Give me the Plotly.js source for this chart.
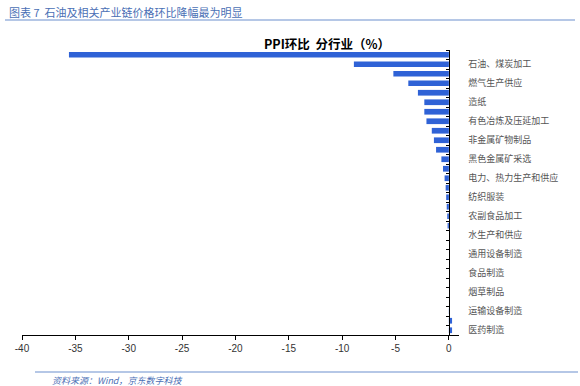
<!DOCTYPE html>
<html>
<head>
<meta charset="utf-8">
<script src="https://cdn.plot.ly/plotly-3.0.1.min.js"></script>
<style>html,body{margin:0;padding:0;background:#fff;}#chart{width:580px;height:386px;}</style>
</head>
<body>
<div id="chart"></div>
<script>
// Category positions (1 = top) and PPI month-on-month change (%)
var positions = [1,2,3,4,5,6,7,8,9,10,11,12,13,14,15,16,17,18,19,20,21,22,23,24,25,26,27,28,29,30];
var values = [-35.6,-8.9,-5.2,-3.8,-2.9,-2.3,-2.3,-2.1,-1.6,-1.4,-1.2,-0.7,-0.55,-0.4,-0.3,-0.25,-0.2,-0.15,-0.12,0,0,0,0,0,0,0,0,0.05,0.3,0.3];
// Labelled categories (every other one is shown in the reference)
var labelPositions = [2,4,6,8,10,12,14,16,18,20,22,24,26,28,30];
var labels = ["石油、煤炭加工","燃气生产供应","造纸","有色冶炼及压延加工","非金属矿物制品","黑色金属矿采选","电力、热力生产和供应","纺织服装","农副食品加工","水生产和供应","通用设备制造","食品制造","烟草制品","运输设备制造","医药制造"];
var xTicks = [-40,-35,-30,-25,-20,-15,-10,-5,0];

var heading = "图表 7  石油及相关产业链价格环比降幅最为明显";
var chartTitle = "PPI环比  分行业（%）";
var source = "资料来源：Wind，京东数字科技";

var xRange = [-40, 0.95];
var yAxisPos = (0 - xRange[0]) / (xRange[1] - xRange[0]);
var cjk = "'Noto Sans CJK SC', 'Noto Sans', sans-serif";

var trace = {
  type: 'bar',
  orientation: 'h',
  x: values,
  y: positions,
  width: 0.6,
  marker: {color: '#2f62d6'},
  hoverinfo: 'x'
};

var layout = {
  width: 580, height: 386,
  margin: {l: 22, r: 121, t: 50, b: 51},
  paper_bgcolor: '#fff', plot_bgcolor: '#fff',
  showlegend: false,
  bargap: 0.4,
  xaxis: {
    range: xRange,
    tickvals: xTicks,
    ticktext: xTicks.map(String),
    showgrid: false, zeroline: false,
    showline: true, linecolor: '#000', linewidth: 1,
    ticks: 'outside', ticklen: 4, tickcolor: '#000',
    tickfont: {family: 'Arial, Liberation Sans, sans-serif', size: 10, color: '#333'}
  },
  yaxis: {
    range: [30.5, 0.5],
    anchor: 'free', position: yAxisPos, side: 'right',
    tickvals: labelPositions, ticktext: labels,
    ticks: '', showgrid: false, zeroline: false,
    showline: true, linecolor: '#000', linewidth: 1.5,
    ticklabelstandoff: 16,
    tickfont: {family: cjk, size: 9, color: '#555'},
    minor: {tick0: 0.5, dtick: 1, ticks: 'inside', ticklen: 3, tickcolor: '#000', tickwidth: 1, showgrid: false}
  },
  annotations: [
    {xref: 'paper', yref: 'paper', x: (7-22)/437, y: 1 + (50-12)/285, xanchor: 'left', yanchor: 'middle',
     text: heading, showarrow: false, font: {family: cjk, size: 11, color: '#4a6fb5'}},
    {xref: 'paper', yref: 'paper', x: (327-22)/437, y: 1 + (50-44)/285, xanchor: 'center', yanchor: 'middle',
     text: '<b>' + chartTitle + '</b>', showarrow: false, font: {family: cjk, size: 12.5, color: '#000'}},
    {xref: 'paper', yref: 'paper', x: (50-22)/437, y: -(380-335)/285, xanchor: 'left', yanchor: 'middle',
     text: '<i>' + source + '</i>', showarrow: false, font: {family: cjk, size: 9, color: '#4a6fb5'}}
  ],
  shapes: [
    {type: 'line', xref: 'paper', yref: 'paper', x0: (5-22)/437, x1: (575-22)/437, y0: 1 + (50-20)/285, y1: 1 + (50-20)/285,
     line: {color: '#9db5de', width: 1.5}},
    {type: 'line', xref: 'paper', yref: 'paper', x0: (35-22)/437, x1: (578-22)/437, y0: -(372-335)/285, y1: -(372-335)/285,
     line: {color: '#9db5de', width: 1.5}}
  ]
};

Plotly.newPlot('chart', [trace], layout, {displayModeBar: false, staticPlot: true});
</script>
</body>
</html>
